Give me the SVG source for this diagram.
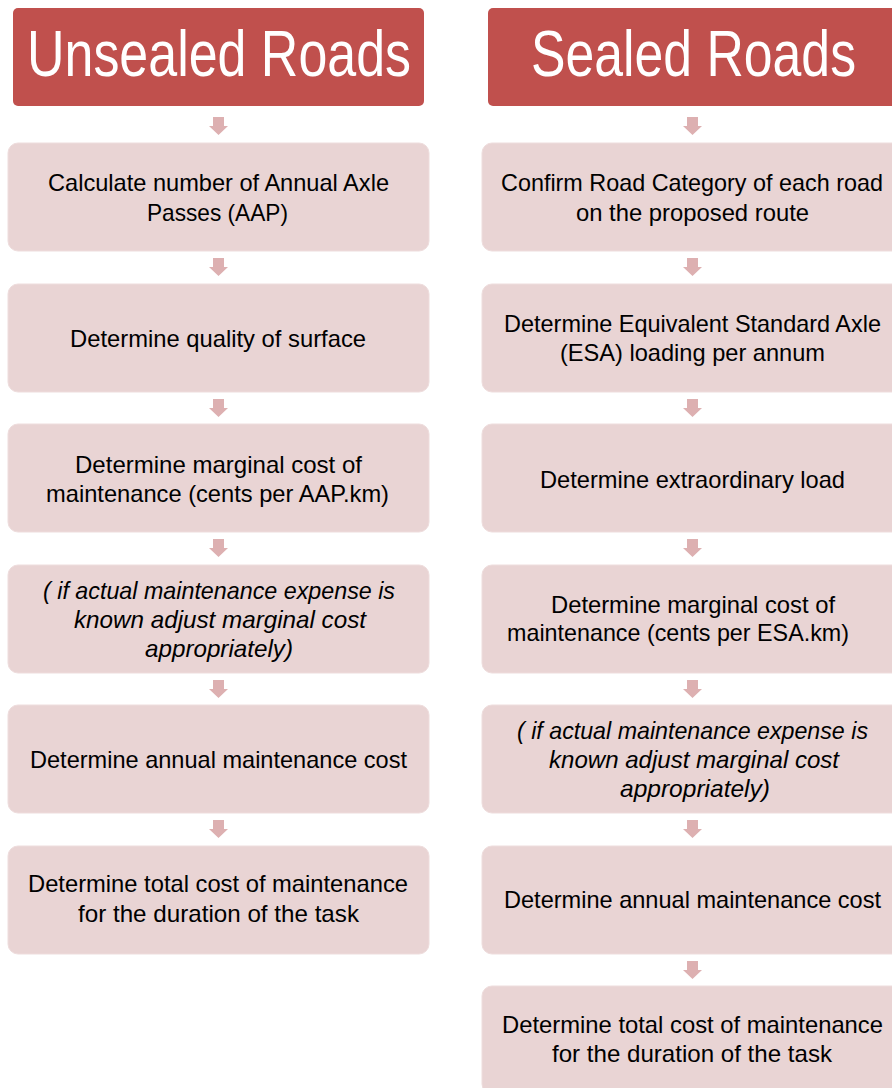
<svg xmlns="http://www.w3.org/2000/svg" width="892" height="1088" viewBox="0 0 892 1088">
<defs>
<style>
.hdr{fill:#C0504D;}
.box{fill:#E9D4D4;stroke:#EEDDDD;stroke-width:1;}
.arr{fill:#DDB0B1;}
.t{font-family:"Liberation Sans",Arial,sans-serif;font-size:24px;fill:#000;}
.i{font-style:italic;}
.h{font-family:"Liberation Sans",Arial,sans-serif;font-size:64px;fill:#fff;}
</style>
<path id="ar" d="M-5.5,0 H5.5 V9 H9.5 L0,18 L-9.5,9 H-5.5 Z"/>
</defs>
<rect width="892" height="1088" fill="#fff"/>
<g id="connectors" class="arr">
<use href="#ar" x="218.5" y="117"/>
<use href="#ar" x="218.5" y="258"/>
<use href="#ar" x="218.5" y="399"/>
<use href="#ar" x="218.5" y="539"/>
<use href="#ar" x="218.5" y="680"/>
<use href="#ar" x="218.5" y="820"/>
<use href="#ar" x="692.5" y="117"/>
<use href="#ar" x="692.5" y="258"/>
<use href="#ar" x="692.5" y="399"/>
<use href="#ar" x="692.5" y="539"/>
<use href="#ar" x="692.5" y="680"/>
<use href="#ar" x="692.5" y="820"/>
<use href="#ar" x="692.5" y="961"/>
</g>
<g id="hdr-unsealed">
<rect class="hdr" x="13" y="8" width="411" height="98" rx="5"/>
<text class="h" x="27" y="76" textLength="384" lengthAdjust="spacingAndGlyphs">Unsealed Roads</text>
</g>
<g id="hdr-sealed">
<rect class="hdr" x="488" y="8" width="411" height="98" rx="5"/>
<text class="h" x="531" y="76" textLength="325" lengthAdjust="spacingAndGlyphs">Sealed Roads</text>
</g>
<g id="u1">
<rect class="box" x="8" y="143" width="421" height="108" rx="10"/>
<text class="t" x="48" y="191" textLength="341" lengthAdjust="spacingAndGlyphs">Calculate number of Annual Axle</text>
<text class="t" x="147" y="221" textLength="141" lengthAdjust="spacingAndGlyphs">Passes (AAP)</text>
</g>
<g id="u2">
<rect class="box" x="8" y="284" width="421" height="108" rx="10"/>
<text class="t" x="70" y="347" textLength="296" lengthAdjust="spacingAndGlyphs">Determine quality of surface</text>
</g>
<g id="u3">
<rect class="box" x="8" y="424" width="421" height="108" rx="10"/>
<text class="t" x="75" y="473" textLength="287" lengthAdjust="spacingAndGlyphs">Determine marginal cost of</text>
<text class="t" x="46" y="502" textLength="343" lengthAdjust="spacingAndGlyphs">maintenance (cents per AAP.km)</text>
</g>
<g id="u4">
<rect class="box" x="8" y="565" width="421" height="108" rx="10"/>
<text class="t i" x="43" y="599" textLength="352" lengthAdjust="spacingAndGlyphs">( if actual maintenance expense is</text>
<text class="t i" x="74" y="628" textLength="292" lengthAdjust="spacingAndGlyphs">known adjust marginal cost</text>
<text class="t i" x="145" y="657" textLength="148" lengthAdjust="spacingAndGlyphs">appropriately)</text>
</g>
<g id="u5">
<rect class="box" x="8" y="705" width="421" height="108" rx="10"/>
<text class="t" x="30" y="768" textLength="377" lengthAdjust="spacingAndGlyphs">Determine annual maintenance cost</text>
</g>
<g id="u6">
<rect class="box" x="8" y="846" width="421" height="108" rx="10"/>
<text class="t" x="28" y="892" textLength="380" lengthAdjust="spacingAndGlyphs">Determine total cost of maintenance</text>
<text class="t" x="78" y="922" textLength="281" lengthAdjust="spacingAndGlyphs">for the duration of the task</text>
</g>
<g id="s1">
<rect class="box" x="482" y="143" width="421" height="108" rx="10"/>
<text class="t" x="501" y="191" textLength="382" lengthAdjust="spacingAndGlyphs">Confirm Road Category of each road</text>
<text class="t" x="576" y="221" textLength="233" lengthAdjust="spacingAndGlyphs">on the proposed route</text>
</g>
<g id="s2">
<rect class="box" x="482" y="284" width="421" height="108" rx="10"/>
<text class="t" x="504" y="332" textLength="377" lengthAdjust="spacingAndGlyphs">Determine Equivalent Standard Axle</text>
<text class="t" x="560" y="361" textLength="265" lengthAdjust="spacingAndGlyphs">(ESA) loading per annum</text>
</g>
<g id="s3">
<rect class="box" x="482" y="424" width="421" height="108" rx="10"/>
<text class="t" x="540" y="488" textLength="305" lengthAdjust="spacingAndGlyphs">Determine extraordinary load</text>
</g>
<g id="s4">
<rect class="box" x="482" y="565" width="421" height="108" rx="10"/>
<text class="t" x="551" y="613" textLength="284" lengthAdjust="spacingAndGlyphs">Determine marginal cost of</text>
<text class="t" x="507" y="641" textLength="342" lengthAdjust="spacingAndGlyphs">maintenance (cents per ESA.km)</text>
</g>
<g id="s5">
<rect class="box" x="482" y="705" width="421" height="108" rx="10"/>
<text class="t i" x="517" y="739" textLength="351" lengthAdjust="spacingAndGlyphs">( if actual maintenance expense is</text>
<text class="t i" x="549" y="768" textLength="290" lengthAdjust="spacingAndGlyphs">known adjust marginal cost</text>
<text class="t i" x="620" y="797" textLength="150" lengthAdjust="spacingAndGlyphs">appropriately)</text>
</g>
<g id="s6">
<rect class="box" x="482" y="846" width="421" height="108" rx="10"/>
<text class="t" x="504" y="908" textLength="377" lengthAdjust="spacingAndGlyphs">Determine annual maintenance cost</text>
</g>
<g id="s7">
<rect class="box" x="482" y="986" width="421" height="108" rx="10"/>
<text class="t" x="502" y="1033" textLength="381" lengthAdjust="spacingAndGlyphs">Determine total cost of maintenance</text>
<text class="t" x="552" y="1062" textLength="280" lengthAdjust="spacingAndGlyphs">for the duration of the task</text>
</g>
</svg>
